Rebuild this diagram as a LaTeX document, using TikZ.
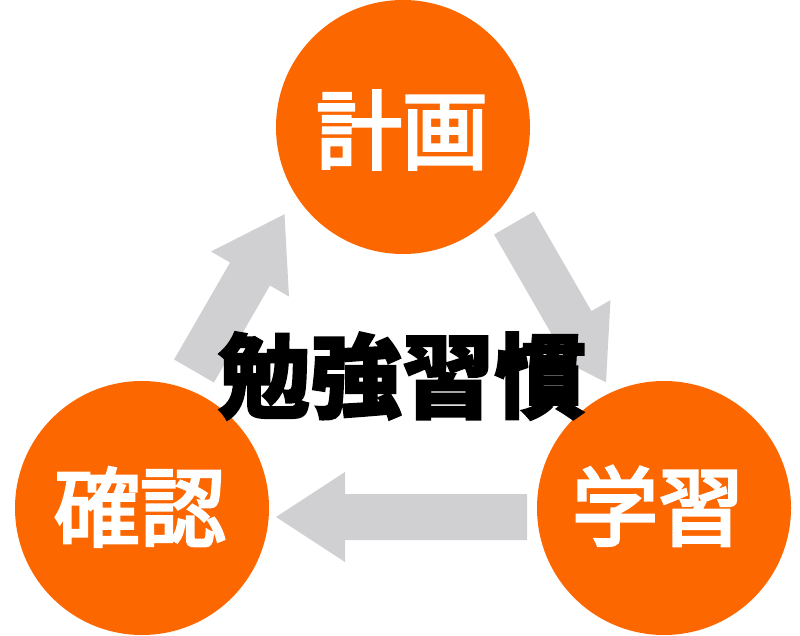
\documentclass[tikz,border=0pt]{standalone}
\usepackage{fontspec}
\newfontfamily\jp[FakeBold=3.5]{Noto Sans CJK JP}
\newfontfamily\jpheavy[BoldFeatures={FakeBold=2}]{Noto Sans CJK JP}
\definecolor{orangefill}{RGB}{252,103,0}
\definecolor{arrowgray}{RGB}{208,208,210}
\tikzset{
  circ/.style={circle,fill=orangefill,minimum size=254pt,inner sep=0pt},
  circtext/.style={inner sep=0pt,text=white,font=\jp\fontsize{86}{86}\selectfont},
  centertext/.style={inner sep=0pt,text=black,font=\jpheavy\bfseries\fontsize{92}{92}\selectfont},
  pics/blockarrow/.style={code={
    \fill[arrowgray] (0,-23) -- (#1,-23) -- (#1,-45) -- ({#1+69},0) -- (#1,45) -- (#1,23) -- (0,23) -- cycle;
  }}
}
\begin{document}
\begin{tikzpicture}[x=1pt,y=1pt]
\useasboundingbox (0,0) rectangle (800,635);
\fill[white] (0,0) rectangle (800,635);
% arrow base coordinates
\coordinate (a1) at (194,264);
\coordinate (a2) at (514,412);
\coordinate (a3) at (527,118);
\pic[rotate=60] at (a1) {blockarrow=112};
\pic[rotate=-60] at (a2) {blockarrow=115};
\pic[rotate=180] at (a3) {blockarrow=182};
% circles
\begin{scope}
\clip (0,0) rectangle (800,635);
\node[circ] (plan) at (403,508) {};
\node[circ] (check) at (142,127) {};
\node[circ] (study) at (664,127) {};
\end{scope}
\node[circtext] (plant) at (402,505) {計画};
\node[circtext] (checkt) at (140,128) {確認};
\node[circtext] (studyt) at (658,129) {学習};
\node[centertext] (habit) at (402,259) {勉強習慣};
\end{tikzpicture}
\end{document}
